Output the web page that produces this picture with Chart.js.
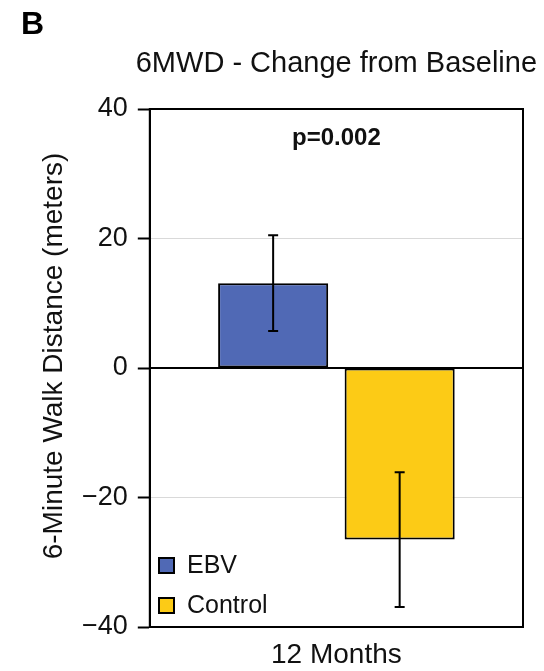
<!DOCTYPE html>
<html lang="en">
  <head>
    <meta charset="UTF-8" />
    <title>6MWD - Change from Baseline</title>
    <script src="https://cdn.jsdelivr.net/npm/chart.js@4.4.1/dist/chart.umd.min.js"></script>
    <style>
      body {
        margin: 0;
        background: #fff;
      }
    </style>
  </head>
  <body>
    <canvas id="walkChart" width="544" height="671"></canvas>
    <script>
      // data
      const timepoints = ["12 Months"];
      const groups = ["EBV", "Control"];
      const means = [13.1, -26.5];
      const errors = [7.4, 10.4];
      const colors = ["#5069b5", "#fccb16"];
      const yTicks = [-40, -20, 0, 20, 40];
      const pValue = "p=0.002";

      const font = "'Liberation Sans', Arial, Helvetica, sans-serif";

      // error bars, zero line, frame, texts and legend
      const extras = {
        id: "extras",
        afterDatasetsDraw(chart) {
          const ctx = chart.ctx;
          const area = chart.chartArea;
          const y = chart.scales.y;
          ctx.save();

          // zero line
          ctx.strokeStyle = "#000";
          ctx.lineWidth = 2;
          ctx.beginPath();
          ctx.moveTo(area.left, y.getPixelForValue(0));
          ctx.lineTo(area.right, y.getPixelForValue(0));
          ctx.stroke();

          // error bars
          chart.data.datasets.forEach((ds, i) => {
            const bar = chart.getDatasetMeta(i).data[0];
            const hi = y.getPixelForValue(means[i] + errors[i]);
            const lo = y.getPixelForValue(means[i] - errors[i]);
            ctx.beginPath();
            ctx.moveTo(bar.x, hi);
            ctx.lineTo(bar.x, lo);
            ctx.moveTo(bar.x - 5, hi);
            ctx.lineTo(bar.x + 5, hi);
            ctx.moveTo(bar.x - 5, lo);
            ctx.lineTo(bar.x + 5, lo);
            ctx.stroke();
          });

          // frame
          ctx.strokeRect(area.left, area.top, area.right - area.left, area.bottom - area.top);

          // p value
          ctx.fillStyle = "#111";
          ctx.textAlign = "center";
          ctx.textBaseline = "alphabetic";
          ctx.font = "bold 24px " + font;
          ctx.fillText(pValue, (area.left + area.right) / 2, 145);

          // legend
          ctx.textAlign = "left";
          ctx.textBaseline = "middle";
          ctx.font = "25px " + font;
          groups.forEach((g, i) => {
            const cy = 565 + i * 40;
            ctx.fillStyle = colors[i];
            ctx.fillRect(159, cy - 7, 15, 15);
            ctx.strokeRect(159, cy - 7, 15, 15);
            ctx.fillStyle = "#111";
            ctx.fillText(g, 187, cy + 1);
          });

          // panel letter and title
          ctx.fillStyle = "#000";
          ctx.textAlign = "left";
          ctx.textBaseline = "alphabetic";
          ctx.font = "bold 32px " + font;
          ctx.fillText("B", 21, 34);
          ctx.fillStyle = "#111";
          ctx.textAlign = "center";
          ctx.font = "29px " + font;
          ctx.fillText("6MWD - Change from Baseline", (area.left + area.right) / 2, 72);

          // y axis title
          ctx.translate(54, 356);
          ctx.rotate(-Math.PI / 2);
          ctx.textBaseline = "middle";
          ctx.font = "28px " + font;
          ctx.fillText("6-Minute Walk Distance (meters)", 0, 0);
          ctx.restore();
        },
      };

      new Chart("walkChart", {
        type: "bar",
        data: {
          labels: timepoints,
          datasets: groups.map((g, i) => ({
            label: g,
            data: [means[i]],
            backgroundColor: colors[i],
            borderColor: "#000",
            borderWidth: 2,
            borderSkipped: false,
            categoryPercentage: 0.678,
            barPercentage: 0.87,
          })),
        },
        options: {
          responsive: false,
          animation: false,
          devicePixelRatio: 1,
          layout: { padding: { left: 72, right: 21, top: 109, bottom: 0 } },
          plugins: {
            legend: { display: false },
            tooltip: { enabled: false },
          },
          scales: {
            x: {
              grid: { display: false, drawTicks: false },
              border: { display: true, color: "#000", width: 2 },
              ticks: {
                padding: 11,
                color: "#111",
                font: { family: font, size: 28 },
              },
              afterFit: (axis) => {
                axis.height = 44;
              },
            },
            y: {
              min: -40,
              max: 40,
              afterBuildTicks: (axis) => {
                axis.ticks = yTicks.map((v) => ({ value: v }));
              },
              ticks: {
                padding: 10,
                color: "#111",
                font: { family: font, size: 27 },
                callback: (v) => (v < 0 ? "\u2212" + Math.abs(v) : String(v)),
              },
              grid: {
                color: (c) =>
                  Math.abs(c.tick.value) === 20 ? "#d9d9d9" : "rgba(0,0,0,0)",
                tickColor: "#000",
                tickLength: 12,
                tickWidth: 2,
                lineWidth: 1,
              },
              border: { display: true, color: "#000", width: 2 },
            },
          },
        },
        plugins: [extras],
      });
    </script>
  </body>
</html>
